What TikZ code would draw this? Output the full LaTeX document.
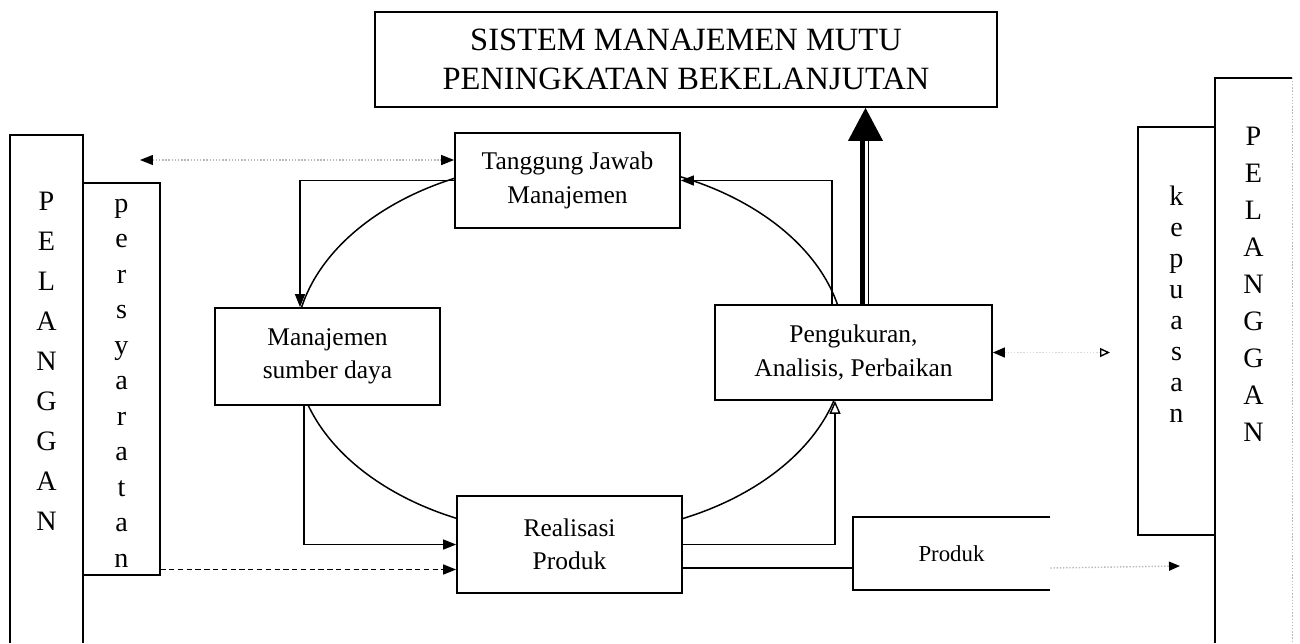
\documentclass[tikz,border=0pt]{standalone}
\usepackage{fontspec}
\setmainfont{Liberation Serif}
\usetikzlibrary{arrows.meta,calc}

\tikzset{
  kotak/.style={draw, line width=1pt, fill=white, align=center, inner sep=0pt,
                font=\fontsize{14.5}{19}\selectfont},
  garis/.style={line width=1pt},
  panah/.style={line width=0.8pt, -{Triangle[length=0.26cm, width=0.2cm]}},
  pudar/.style={line width=0.8pt, gray!55, densely dotted},
  huruf/.style={inner sep=0pt, text height=1.6ex, text depth=0.3ex,
                font=\fontsize{16}{16}\selectfont},
}

\begin{document}
\begin{tikzpicture}[x=0.02cm, y=-0.02cm]
        \useasboundingbox (0,0) rectangle (1300,643);                          %
        \draw [line width=0.85pt] (570,348) ellipse [x radius=5.5cm, y radius=3.74cm]; %siklus

        \node [kotak, minimum width=12.44cm, minimum height=1.9cm,
               font=\fontsize{18.5}{22}\selectfont] (smm) at (686,59.5)
               {SISTEM MANAJEMEN MUTU\\PENINGKATAN BEKELANJUTAN};             %SMM
        \node [kotak, minimum width=4.5cm, minimum height=1.9cm]  (tjm) at (567.5,180.5) {Tanggung Jawab\\Manajemen};
        \node [kotak, minimum width=4.5cm, minimum height=1.94cm] (msd) at (327.5,356.5) {Manajemen\\sumber daya};
        \node [kotak, minimum width=5.54cm, minimum height=1.9cm] (pap) at (853.5,352.5) {Pengukuran,\\Analisis, Perbaikan};
        \node [kotak, minimum width=4.5cm, minimum height=1.94cm] (rp)  at (569.5,544.5) {Realisasi\\Produk};
        \node [inner sep=0pt, minimum width=3.94cm, minimum height=1.46cm,
               font=\fontsize{13}{16}\selectfont] (prd) at (951.5,553.5) {Produk};
        \draw [garis] (prd.north east) -- (prd.north west) -- (prd.south west) -- (prd.south east);

        %kolom kiri
        \node [minimum width=1.46cm, minimum height=10.16cm, inner sep=0pt] (pl)  at (46.5,389)   {};
        \node [minimum width=1.54cm, minimum height=7.84cm,  inner sep=0pt] (psy) at (121.5,379)  {};
        \draw [garis] (pl.south west) -- (pl.north west) -- (pl.north east) -- (pl.south east);
        \draw [garis] (psy.north west) -- (psy.north east) -- (psy.south east) -- (psy.south west);
        \foreach \h [count=\i] in {P,E,L,A,N,G,G,A,N}
          \node [huruf] (pl-\i) at (46.5,165+40*\i) {\h};
        \foreach \h [count=\i] in {p,e,r,s,y,a,r,a,t,a,n}
          \node [huruf] (psy-\i) at (121.5,171.5+35.5*\i) {\h};

        %kolom kanan
        \node [minimum width=1.54cm, minimum height=8.16cm, inner sep=0pt] (kpa) at (1176.5,331)   {};
        \node [minimum width=1.54cm, minimum height=11.3cm, inner sep=0pt] (pr)  at (1253.5,360.5) {};
        \draw [garis] (kpa.south east) -- (kpa.south west) -- (kpa.north west) -- (kpa.north east);
        \draw [garis] (pr.south west) -- (pr.north west) -- (pr.north east);
        \draw [pudar] (pr.north east) -- (pr.south east);
        \foreach \h [count=\i] in {k,e,p,u,a,s,a,n}
          \node [huruf] (kpa-\i) at (1176.5,169+31*\i) {\h};
        \foreach \h [count=\i] in {P,E,L,A,N,G,G,A,N}
          \node [huruf] (pr-\i) at (1253.5,103+37*\i) {\h};

        %penghubung
        \coordinate (ki) at (140,160);                                         %
        \draw [pudar, {Triangle[color=black, length=0.26cm, width=0.2cm]}-{Triangle[color=black, length=0.26cm, width=0.2cm]}]
              (ki) -- (ki -| tjm.west);                                        %
        \draw [panah] (tjm.west) -| ([xshift=-0.55cm]msd.north);               %
        \draw [panah] ([xshift=-0.43cm]pap.north) |- (tjm.east);               %
        \draw [panah] ([xshift=-0.47cm]msd.south) |- (rp.west);                %
        \coordinate (rpw) at ([yshift=-0.5cm]rp.west);                         %
        \draw [panah, densely dashed] (psy.east |- rpw) -- (rpw);              %
        \draw [line width=0.8pt, -{Triangle[open, length=0.26cm, width=0.22cm]}]
              (rp.east) -| ([xshift=-0.37cm]pap.south);                        %
        \coordinate (rpe) at ([yshift=-0.47cm]rp.east);                        %
        \draw [garis] (rpe) -- (rpe -| prd.west);                              %
        \coordinate (kp) at (1180,566);                                        %
        \draw [pudar, -{Triangle[color=black, length=0.22cm, width=0.18cm]}] (rpe -| prd.east) -- (kp);
        \coordinate (kk) at (1110,352.5);                                      %
        \draw [line width=0.8pt, gray!30, densely dotted,
               {Triangle[color=black, length=0.24cm, width=0.2cm]}-{Triangle[color=black, open, length=0.2cm, width=0.18cm]}]
              (pap.east) -- (kk);                                              %

        %panah ke SMM
        \coordinate (nk) at ([xshift=0.18cm]pap.north);                        %
        \coordinate (ujung) at ([xshift=0.06cm]nk |- smm.south);               %
        \draw [line width=2.6pt] (nk) -- ++(0,-165);                           %
        \draw [line width=1pt]   ([xshift=0.12cm]nk) -- ++(0,-165);            %
        \fill (ujung) -- ++(-17.5,33) -- ++(35,0) -- cycle;                    %
\end{tikzpicture}
\end{document}
